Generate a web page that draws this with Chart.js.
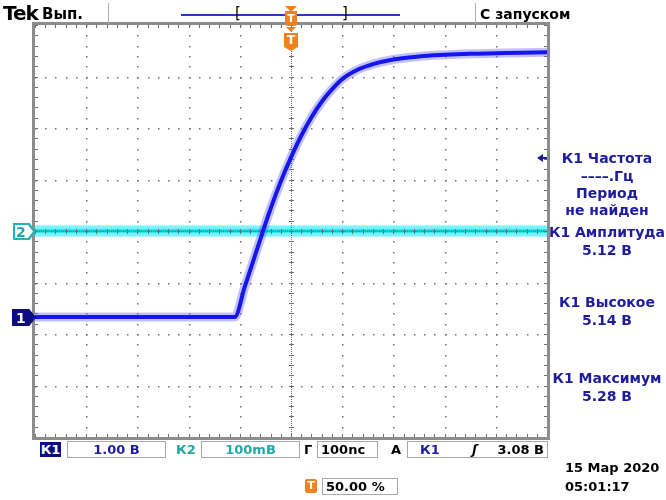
<!DOCTYPE html>
<html>
<head>
<meta charset="utf-8">
<script src="https://cdn.jsdelivr.net/npm/chart.js@4.4.0/dist/chart.umd.min.js"></script>
<style>
  body { margin: 0; background: #fff; font-family: "DejaVu Sans", sans-serif; }
  #wrap { position: relative; width: 666px; height: 500px; overflow: hidden; }
  #scope { position: absolute; left: 0; top: 0; }
  .t { position: absolute; white-space: nowrap; line-height: 1; }
  .box { position: absolute; border: 1px solid #a8a8a8; box-sizing: border-box; height: 17px; font-size: 13px; font-weight: bold; line-height: 15px; white-space: nowrap; }
  .meas { position: absolute; left: 548px; width: 118px; text-align: center; color: #1c1c9c; font-size: 14px; font-weight: bold; line-height: 1; }
  .sep { position: absolute; width: 1px; background: #b0b0b0; top: 3px; height: 21px; }
  .orange { background: #f08020; color: #fff; font-weight: bold; text-align: center; position: absolute; }
</style>
</head>
<body>
<div id="wrap">
  <canvas id="scope" width="666" height="500"></canvas>

  <!-- top bar -->
  <div class="t" style="left:3px;top:3px;font-size:20px;font-weight:bold;letter-spacing:-1px;">Tek</div>
  <div class="t" style="left:42px;top:7px;font-size:15px;font-weight:bold">Вып.</div>
  <div class="sep" style="left:108px"></div>
  <div style="position:absolute;left:181px;top:14px;width:219px;height:2px;background:#3434c0"></div>
  <div class="t" style="left:235px;top:6px;font-size:15px;">[</div>
  <div class="t" style="left:342px;top:6px;font-size:15px;">]</div>
  <div style="position:absolute;left:285px;top:6px;width:0;height:0;border-left:6px solid transparent;border-right:6px solid transparent;border-top:6px solid #f08020"></div>
  <div class="orange" style="left:285px;top:11px;width:12px;height:15px;font-size:11px;line-height:15px;border-radius:0 0 3px 3px">T</div>
  <div class="sep" style="left:475px"></div>
  <div class="t" style="left:480px;top:7px;font-size:14px;font-weight:bold">С запуском</div>

  <!-- trigger position marker under top border -->
  <div style="position:absolute;left:286px;top:27px;width:0;height:0;border-left:5px solid transparent;border-right:5px solid transparent;border-top:5px solid #f08020"></div>
  <div class="orange" style="left:284px;top:33px;width:14px;height:18px;font-size:12px;line-height:15px;clip-path:polygon(0 0,100% 0,100% 78%,50% 100%,0 78%)">T</div>

  <!-- channel markers -->
  <div style="position:absolute;left:13px;top:223px;width:23px;height:17px;background:#22b4b4;clip-path:polygon(0 0,72% 0,100% 50%,72% 100%,0 100%)"></div>
  <div style="position:absolute;left:15px;top:225px;width:18px;height:13px;background:#fff;clip-path:polygon(0 0,72% 0,100% 50%,72% 100%,0 100%)"></div>
  <div class="t" style="left:16px;top:225px;font-size:14px;font-weight:bold;color:#22a8a8">2</div>
  <div style="position:absolute;left:12px;top:309px;width:24px;height:17px;background:#0c0c80;clip-path:polygon(0 0,72% 0,100% 50%,72% 100%,0 100%)"></div>
  <div class="t" style="left:16px;top:311px;font-size:14px;font-weight:bold;color:#fff">1</div>

  <!-- measurement panel -->
  <div style="position:absolute;left:537px;top:154px;width:0;height:0;border-top:4px solid transparent;border-bottom:4px solid transparent;border-right:6px solid #1c1c9c"></div>
  <div style="position:absolute;left:541px;top:157px;width:6px;height:2px;background:#1c1c9c"></div>
  <div class="meas" style="top:151px">К1 Частота</div>
  <div class="meas" style="top:169px">––––.Гц</div>
  <div class="meas" style="top:186px">Период</div>
  <div class="meas" style="top:203px">не найден</div>
  <div class="meas" style="top:225px">К1 Амплитуда</div>
  <div class="meas" style="top:243px">5.12 В</div>
  <div class="meas" style="top:295px">К1 Высокое</div>
  <div class="meas" style="top:313px">5.14 В</div>
  <div class="meas" style="top:371px">К1 Максимум</div>
  <div class="meas" style="top:389px">5.28 В</div>

  <!-- bottom bar -->
  <div class="t" style="left:40px;top:442px;width:21px;height:15px;background:#0c0c80;color:#fff;font-size:13px;font-weight:bold;line-height:15px;text-align:center">К1</div>
  <div class="box" style="left:67px;top:441px;width:99px;color:#1c1c9c;text-align:center">1.00 В</div>
  <div class="t" style="left:176px;top:443px;font-size:13px;font-weight:bold;color:#22a8a8">К2</div>
  <div class="box" style="left:201px;top:441px;width:99px;color:#22a8a8;text-align:center">100mВ</div>
  <div class="t" style="left:304px;top:443px;font-size:13px;font-weight:bold">Г</div>
  <div class="box" style="left:317px;top:441px;width:61px;padding-left:3px">100nс</div>
  <div class="t" style="left:391px;top:443px;font-size:13px;font-weight:bold">A</div>
  <div class="box" style="left:407px;top:441px;width:141px">
    <span style="position:absolute;left:12px;color:#1c1c9c">К1</span>
    <span style="position:absolute;left:64px;font-style:italic">ʃ</span>
    <span style="position:absolute;right:3px">3.08 В</span>
  </div>
  <div class="orange" style="left:305px;top:479px;width:12px;height:14px;font-size:11px;line-height:14px;border-radius:2px">T</div>
  <div class="box" style="left:322px;top:478px;width:76px;padding-left:3px">50.00 %</div>
  <div class="t" style="left:565px;top:461px;font-size:13px;font-weight:bold">15 Мар 2020</div>
  <div class="t" style="left:565px;top:480px;font-size:13px;font-weight:bold">05:01:17</div>
</div>

<script>
// channel 1 (1.00 В/дел), time in ns (100 ns/дел)
const timeNs = [-500, -110, -90, -70, -55, -40, -20, 0, 20, 40, 60, 80, 100, 130, 160, 200, 250, 300, 350, 400, 450, 500];
const ch1Volts = [0, 0, 0.6, 1.2, 1.66, 2.1, 2.63, 3.1, 3.52, 3.88, 4.18, 4.42, 4.62, 4.8, 4.91, 5.0, 5.06, 5.09, 5.11, 5.12, 5.13, 5.14];

// channel 2 (100 mВ/дел), flat at its ground level
const ch2TimeNs = [-500, 500];
const ch2MilliVolts = [0, 0];

const ch1Offset = 1.67; // divisions below screen centre

function pts(xs, ys) {
    return xs.map((x, i) => ({x: x, y: ys[i]}));
}

// dotted tek graticule, drawn between ch2 and ch1
const graticule = {
    id: 'graticule',
    afterDatasetDraw(chart, args) {
        if (args.index !== 2) return;
        const ctx = chart.ctx;
        const a = chart.chartArea;
        const dx = (a.right - a.left) / 10;
        const dy = (a.bottom - a.top) / 8;
        const cx = a.left + 5 * dx;
        const cy = a.top + 4 * dy;
        ctx.save();
        ctx.fillStyle = '#6e6e6e';

        for (let i = 1; i < 10; i++) {
            if (i == 5) continue;
            const x = Math.round(a.left + i * dx);
            for (let k = 0; k <= 40; k++) ctx.fillRect(x, Math.round(a.top + k * dy / 5), 1.5, 1.5);
        }
        for (let j = 1; j < 8; j++) {
            if (j == 4) continue;
            const y = Math.round(a.top + j * dy);
            for (let k = 0; k <= 50; k++) ctx.fillRect(Math.round(a.left + k * dx / 5), y, 1.5, 1.5);
        }

        // centre lines with minor ticks
        for (let y = a.top; y <= a.bottom; y += 2) ctx.fillRect(Math.round(cx), Math.round(y), 1, 1);
        for (let x = a.left; x <= a.right; x += 2) ctx.fillRect(Math.round(x), Math.round(cy), 1, 1);
        for (let k = 0; k <= 40; k++) ctx.fillRect(Math.round(cx) - 2, Math.round(a.top + k * dy / 5), 5, 1);
        for (let k = 0; k <= 50; k++) ctx.fillRect(Math.round(a.left + k * dx / 5), Math.round(cy) - 2, 1, 5);

        // edge ticks
        for (let k = 0; k <= 50; k++) {
            const x = Math.round(a.left + k * dx / 5);
            ctx.fillRect(x, a.top, 1, 3);
            ctx.fillRect(x, a.bottom - 3, 1, 3);
        }
        for (let k = 0; k <= 40; k++) {
            const y = Math.round(a.top + k * dy / 5);
            ctx.fillRect(a.left, y, 3, 1);
            ctx.fillRect(a.right - 3, y, 3, 1);
        }

        ctx.strokeStyle = '#8c8c8c';
        ctx.lineWidth = 3;
        ctx.strokeRect(a.left - 1.5, a.top - 1.5, a.right - a.left + 3, a.bottom - a.top + 3);
        ctx.restore();
    }
};

new Chart(document.querySelector('#scope'), {
    type: 'line',
    data: {
        datasets: [
            {data: pts(timeNs, ch1Volts), yAxisID: 'y', order: 0, borderColor: '#1616e8', borderWidth: 4, cubicInterpolationMode: 'monotone'},
            {data: pts(timeNs, ch1Volts), yAxisID: 'y', order: 1, borderColor: 'rgba(100,100,255,0.4)', borderWidth: 9, cubicInterpolationMode: 'monotone'},
            {data: pts(ch2TimeNs, ch2MilliVolts), yAxisID: 'y2', order: 2, borderColor: '#00cfe0', borderWidth: 3},
            {data: pts(ch2TimeNs, ch2MilliVolts), yAxisID: 'y2', order: 3, borderColor: 'rgba(60,240,250,0.7)', borderWidth: 11}
        ]
    },
    options: {
        responsive: false,
        animation: false,
        events: [],
        layout: {padding: {left: 35, right: 119, top: 25, bottom: 63}},
        elements: {point: {radius: 0}, line: {borderCapStyle: 'butt'}},
        plugins: {legend: {display: false}, tooltip: {enabled: false}},
        scales: {
            x: {type: 'linear', min: -500, max: 500, display: false},
            y: {min: -4 + ch1Offset, max: 4 + ch1Offset, display: false},
            y2: {min: -400, max: 400, display: false}
        }
    },
    plugins: [graticule]
});
</script>
</body>
</html>
